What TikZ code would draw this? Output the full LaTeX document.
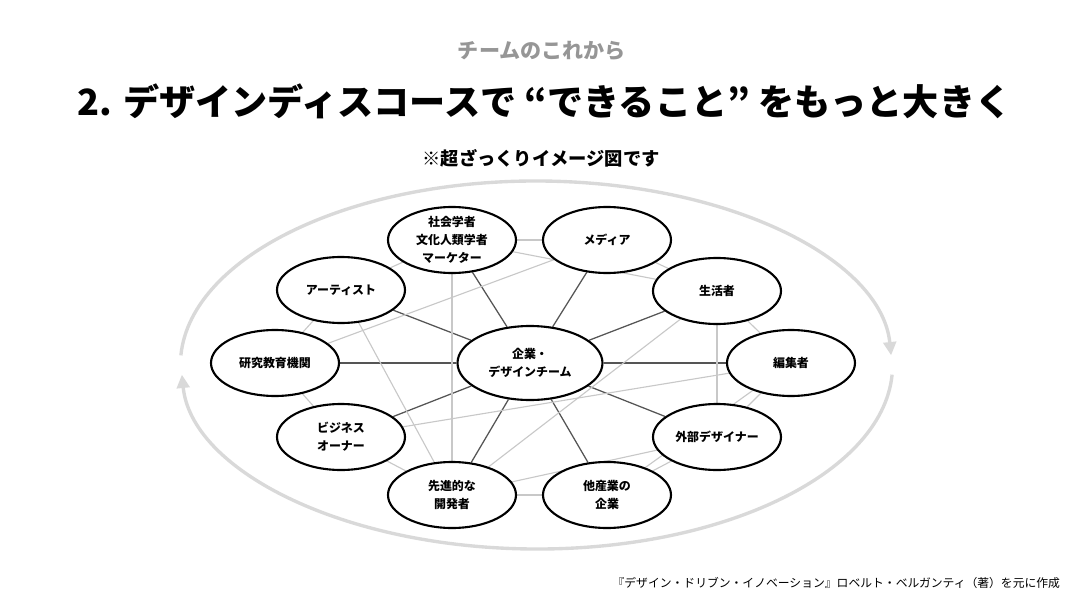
\documentclass[tikz,border=0pt]{standalone}
\usepackage{fontspec}
\setmainfont{Noto Sans CJK JP}
\usetikzlibrary{shapes.geometric, arrows.meta, positioning, backgrounds}
\definecolor{ringgray}{RGB}{217, 217, 217}
\definecolor{spokegray}{RGB}{85, 85, 85}
\definecolor{weakgray}{RGB}{200, 200, 200}
\definecolor{kickergray}{RGB}{150, 150, 150}

\tikzset{
  member/.style={draw, ellipse, line width=1.5pt, fill=white, minimum width=3.2cm, minimum height=1.65cm, inner sep=0pt, align=center, font=\bfseries\fontsize{8.5}{12.8}\selectfont},
  core/.style={member, minimum width=3.625cm, minimum height=1.85cm},
  spoke/.style={spokegray, line width=0.9pt},
  weak/.style={weakgray, line width=0.8pt},
  ring/.style={ringgray, line width=2.4pt, -{Triangle[width=9pt, length=9.5pt]}}
}

\begin{document}
\begin{tikzpicture}
  \useasboundingbox (-13.25, 9.075) rectangle (13.85, -6.125);

  % Headings
  \node[font=\bfseries\fontsize{15}{18}\selectfont, text=kickergray] (kicker) at (0.3, 7.8) {チームのこれから};
  \node[font=\bfseries\fontsize{25.7}{30}\selectfont] (title) at (0.36, 6.55) {2. デザインディスコースで “できること” をもっと大きく};
  \node[font=\bfseries\fontsize{13}{16}\selectfont] (note) at (0.28, 5.125) {※超ざっくりイメージ図です};

  % Players
  \node[core] (core) at (0, 0) {企業・\\デザインチーム};
  \node[member] (edit) at (6.525, 0) {編集者};
  \node[member] (life) at (4.675, 1.8) {生活者};
  \node[member] (media) at (1.925, 3.075) {メディア};
  \node[member, inner ysep=-1.5pt] (soc) at (-1.95, 3.075) {社会学者\\文化人類学者\\マーケター};
  \node[member] (art) at (-4.725, 1.825) {アーティスト};
  \node[member] (lab) at (-6.375, 0) {研究教育機関};
  \node[member] (biz) at (-4.725, -1.85) {ビジネス\\オーナー};
  \node[member] (dev) at (-1.95, -3.3) {先進的な\\開発者};
  \node[member] (ind) at (1.925, -3.3) {他産業の\\企業};
  \node[member] (ext) at (4.675, -1.85) {外部デザイナー};

  % Links behind the players
  \begin{scope}[on background layer]
    \foreach \m in {edit, life, media, soc, art, lab, biz, dev, ind, ext}
      \draw[spoke] (core) -- (\m);
    \foreach \a/\b in {soc/media, soc/life, soc/art, soc/dev, lab/media, art/lab, art/dev,
                       lab/biz, biz/dev, biz/edit, dev/life, dev/ext, dev/ind, media/life,
                       life/edit, life/ext, edit/ext, edit/ind, ext/ind}
      \draw[weak] (\a) -- (\b);
  \end{scope}

  % Outer cycle
  \draw[ring] (-8.728, 0.191) arc[start angle=177, end angle=3, x radius=8.89cm, y radius=4.6cm];
  \draw[ring] (9.053, -0.291) arc[start angle=-3, end angle=-177, x radius=8.89cm, y radius=4.6cm];

  % Source
  \node[font=\fontsize{8.4}{10}\selectfont, anchor=east] (source) at (13.375, -5.5) {『デザイン・ドリブン・イノベーション』ロベルト・ベルガンティ（著）を元に作成};
\end{tikzpicture}
\end{document}
